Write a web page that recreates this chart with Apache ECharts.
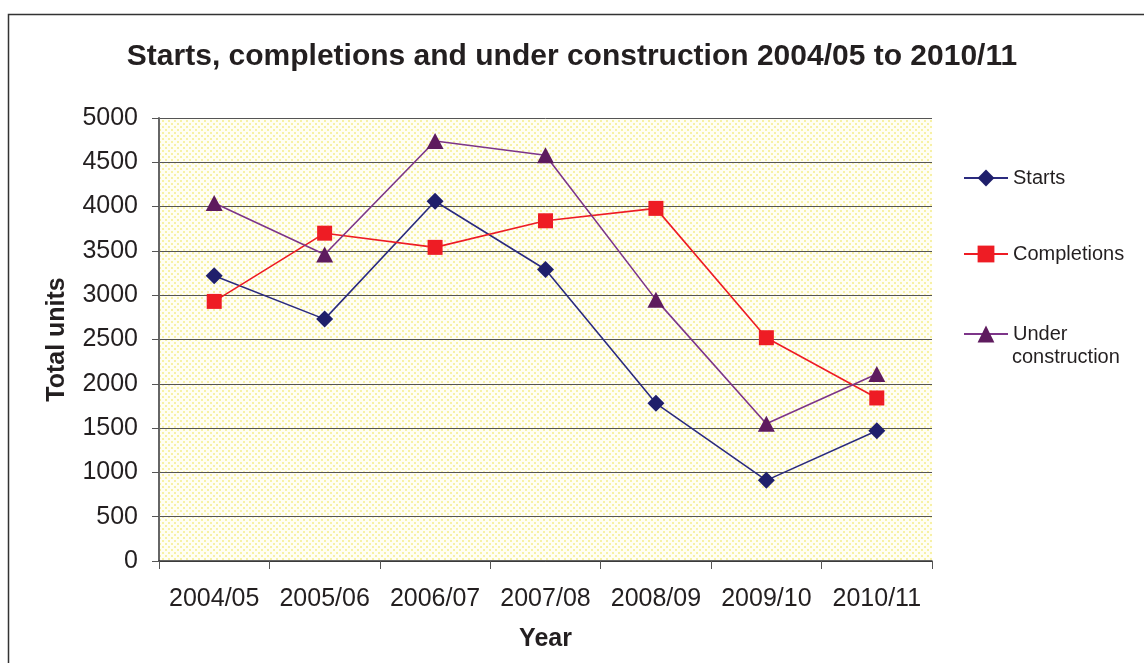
<!DOCTYPE html>
<html>
<head>
<meta charset="utf-8">
<script src="https://cdn.jsdelivr.net/npm/echarts@6/dist/echarts.min.js"></script>
<style>
  html, body { margin: 0; padding: 0; background: #fff; }
  #main { width: 1144px; height: 663px; }
</style>
</head>
<body>
<div id="main"></div>
<script>
// data
var years = ['2004/05', '2005/06', '2006/07', '2007/08', '2008/09', '2009/10', '2010/11'];
var starts = [3220, 2730, 4060, 3290, 1780, 910, 1470];
var completions = [2930, 3700, 3540, 3840, 3980, 2520, 1840];
var underConstruction = [4040, 3460, 4740, 4580, 2950, 1550, 2110];

var FONT = '"Liberation Sans", Arial, sans-serif';
var TXT = '#231f20';

// dotted yellow fill for the plot area
var pat = document.createElement('canvas');
pat.width = 6; pat.height = 6;
var c = pat.getContext('2d');
c.fillStyle = '#fffef4';
c.fillRect(0, 0, 6, 6);
c.fillStyle = '#f7f1a6';
c.fillRect(0, 0, 2, 2);
c.fillRect(3, 3, 2, 2);

var myChart = echarts.init(document.getElementById('main'));

function legendFor(name, top) {
  return {
    data: [name],
    left: 958,
    top: top,
    orient: 'vertical',
    itemWidth: 44,
    itemHeight: 21,
    formatter: function (n) { return n === 'Under construction' ? 'Under' : n; },
    textStyle: { fontFamily: FONT, fontSize: 20, color: TXT }
  };
}

var option = {
  backgroundColor: '#fff',
  animation: false,
  title: {
    text: 'Starts, completions and under construction 2004/05 to 2010/11',
    left: 'center',
    top: 37,
    textStyle: { fontFamily: FONT, fontSize: 30, fontWeight: 'bold', color: TXT }
  },
  legend: [
    legendFor('Starts', 163),
    legendFor('Completions', 239),
    legendFor('Under construction', 319)
  ],
  graphic: [
    {
      type: 'rect',
      shape: { x: 8.5, y: 14.5, width: 1300, height: 800 },
      style: { fill: 'none', stroke: '#333', lineWidth: 1.5 },
      silent: true
    },
    {
      type: 'text',
      left: 1012,
      top: 347,
      style: { text: 'construction', fontFamily: FONT, fontSize: 20, fill: TXT },
      silent: true
    }
  ],
  grid: {
    left: 159,
    right: 212,
    top: 118,
    bottom: 102,
    show: true,
    borderWidth: 0,
    backgroundColor: { image: pat, repeat: 'repeat' }
  },
  xAxis: {
    type: 'category',
    data: years,
    boundaryGap: true,
    name: 'Year',
    nameLocation: 'middle',
    nameGap: 66,
    nameTextStyle: { fontFamily: FONT, fontSize: 25, fontWeight: 'bold', color: TXT },
    axisLine: { lineStyle: { color: '#333', width: 1.5 } },
    axisTick: { show: true, length: 8, alignWithLabel: false, lineStyle: { color: '#555' } },
    axisLabel: { fontFamily: FONT, fontSize: 25, color: TXT, margin: 26, interval: 0 },
    splitLine: { show: false }
  },
  yAxis: {
    type: 'value',
    min: 0,
    max: 5000,
    interval: 500,
    name: 'Total units',
    nameLocation: 'middle',
    nameRotate: 90,
    nameGap: 89,
    nameTextStyle: { fontFamily: FONT, fontSize: 25, fontWeight: 'bold', color: TXT },
    axisLine: { show: true, lineStyle: { color: '#666', width: 2 } },
    axisTick: { show: true, length: 7, lineStyle: { color: '#555' } },
    axisLabel: {
      fontFamily: FONT, fontSize: 25, color: TXT, margin: 21,
      formatter: function (v) { return String(v); }
    },
    splitLine: { show: true, lineStyle: { color: '#555', width: 1 } }
  },
  series: [
    {
      name: 'Starts',
      type: 'line',
      data: starts,
      symbol: 'diamond',
      symbolSize: [17, 17],
      lineStyle: { color: '#2b2b7f', width: 1.6 },
      itemStyle: { color: '#1f1f6b' }
    },
    {
      name: 'Completions',
      type: 'line',
      data: completions,
      symbol: 'rect',
      symbolSize: [15, 15],
      lineStyle: { color: '#ee1c24', width: 1.6 },
      itemStyle: { color: '#ee1c24' }
    },
    {
      name: 'Under construction',
      type: 'line',
      data: underConstruction,
      symbol: 'triangle',
      symbolSize: [17, 16],
      lineStyle: { color: '#7d3589', width: 1.6 },
      itemStyle: { color: '#5e1b5e' }
    }
  ]
};

myChart.setOption(option);
</script>
</body>
</html>
